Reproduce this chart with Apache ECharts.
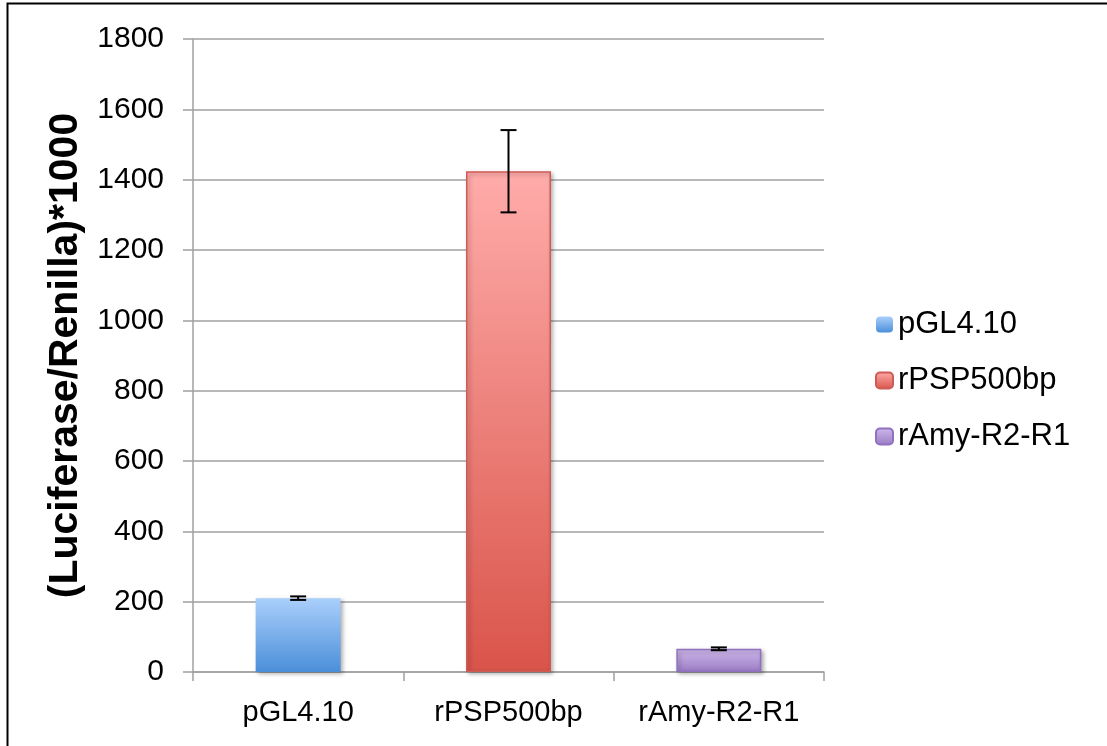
<!DOCTYPE html>
<html>
<head>
<meta charset="utf-8">
<script src="https://cdn.jsdelivr.net/npm/echarts@6/dist/echarts.min.js"></script>
<style>
  html, body { margin: 0; padding: 0; background: #fff; }
  #ch1 { width: 1107px; height: 746px; }
</style>
</head>
<body>
<div id="ch1"></div>
<script>
const categories = ['pGL4.10', 'rPSP500bp', 'rAmy-R2-R1']
const means = [210, 1424, 66]
const errors = [5, 117, 4]
const yTicks = [0, 200, 400, 600, 800, 1000, 1200, 1400, 1600, 1800]

const cht1 = echarts.init(document.getElementById('ch1'))

function grad (top, bottom) {
  return new echarts.graphic.LinearGradient(0, 0, 0, 1, [
    { offset: 0, color: top },
    { offset: 1, color: bottom }
  ])
}

const styles = [
  { color: grad('#aacffb', '#4b8fd9'), borderColor: '#6a9fd8', borderWidth: 0 },
  { color: grad('#ffacaa', '#d9544a'), borderColor: '#cf5b55', borderWidth: 1.5 },
  { color: grad('#cfb9ec', '#9a7bc3'), borderColor: '#9070bf', borderWidth: 1.5 }
]

const barSeries = categories.map(function (name, i) {
  return {
    name: name,
    type: 'bar',
    barWidth: 85,
    barGap: '-100%',
    data: means.map(function (v, j) { return j === i ? v : '-' }),
    itemStyle: Object.assign({
      shadowBlur: 4,
      shadowColor: 'rgba(0,0,0,0.3)',
      shadowOffsetX: 2,
      shadowOffsetY: 2
    }, styles[i])
  }
})

const errData = means.map(function (v, i) { return [i, v - errors[i], v + errors[i]] })

const options1 = {
  animation: false,
  textStyle: { fontFamily: 'Liberation Sans, Arial, sans-serif' },
  graphic: [{
    type: 'rect',
    shape: { x: 7.5, y: 3.5, width: 1200, height: 800 },
    style: { fill: 'none', stroke: '#000', lineWidth: 2 },
    silent: true
  }],
  grid: { left: 193, right: 283, top: 39, bottom: 74 },
  legend: {
    orient: 'vertical',
    left: 875,
    top: 309,
    padding: 0,
    itemWidth: 17,
    itemHeight: 16,
    itemGap: 25,
    textStyle: { fontSize: 31, color: '#000' },
    data: categories
  },
  xAxis: {
    type: 'category',
    data: categories,
    axisLine: { lineStyle: { color: '#a0a0a0', width: 1.5 } },
    axisTick: { show: true, length: 9, lineStyle: { color: '#a0a0a0', width: 1.5 } },
    axisLabel: { fontSize: 29, color: '#000', margin: 26 },
    splitLine: { show: false }
  },
  yAxis: {
    type: 'value',
    min: yTicks[0],
    max: yTicks[yTicks.length - 1],
    interval: 200,
    name: '(Luciferase/Renilla)*1000',
    nameLocation: 'middle',
    nameGap: 107,
    nameTextStyle: { fontSize: 41, fontWeight: 'bold', color: '#000' },
    axisLine: { show: true, lineStyle: { color: '#a0a0a0', width: 1.5 } },
    axisTick: { show: true, inside: false, length: 10, lineStyle: { color: '#a0a0a0', width: 1.5 } },
    axisLabel: { fontSize: 30, color: '#000', margin: 29, formatter: function (v) { return String(v) } },
    splitLine: { lineStyle: { color: '#a0a0a0', width: 1.5 } }
  },
  series: barSeries.concat([{
    type: 'custom',
    name: 'err',
    data: errData,
    encode: { x: 0, y: [1, 2] },
    z: 5,
    renderItem: function (params, api) {
      const x = api.value(0)
      const lo = api.coord([x, api.value(1)])
      const hi = api.coord([x, api.value(2)])
      const cap = 8
      const st = { stroke: '#000', lineWidth: 2 }
      return {
        type: 'group',
        children: [
          { type: 'line', shape: { x1: lo[0], y1: lo[1], x2: hi[0], y2: hi[1] }, style: st },
          { type: 'line', shape: { x1: lo[0] - cap, y1: lo[1], x2: lo[0] + cap, y2: lo[1] }, style: st },
          { type: 'line', shape: { x1: hi[0] - cap, y1: hi[1], x2: hi[0] + cap, y2: hi[1] }, style: st }
        ]
      }
    }
  }])
}
cht1.setOption(options1)
</script>
</body>
</html>
